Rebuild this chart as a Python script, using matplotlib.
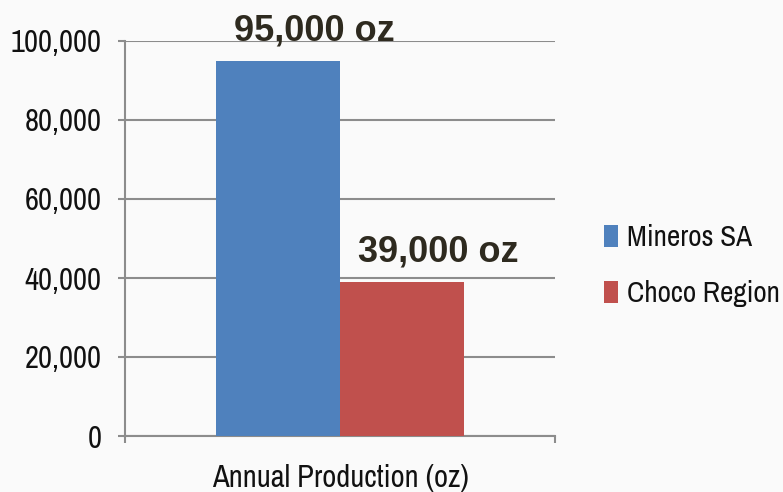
import matplotlib.pyplot as plt
from matplotlib.ticker import FuncFormatter
from matplotlib.patches import Patch

categories = ["Annual Production (oz)"]
series = ["Mineros SA", "Choco Region"]
values = [95000, 39000]
labels = ["95,000 oz", "39,000 oz"]
colors = ["#4f81bd", "#c0504d"]

narrow = ["Archivo Narrow", "DejaVu Sans"]
bg = "#fafafa"
grid_c = "#8c8c8c"

fig = plt.figure(figsize=(7.83, 4.92), dpi=100, facecolor=bg)
ax = fig.add_axes([125 / 783, 1 - 436 / 492, 430 / 783, 395 / 492], facecolor=bg)

w = 0.288
offsets = [-w / 2, w / 2]
for i in range(len(series)):
    ax.bar(offsets[i], values[i], width=w, color=colors[i], zorder=3)
    ax.annotate(labels[i], (offsets[i], values[i]), xytext=(36, 20),
                textcoords="offset pixels", ha="center", va="baseline",
                fontsize=26, fontweight="bold", color="#2e2a1f",
                family=["Liberation Sans", "DejaVu Sans"], zorder=4,
                annotation_clip=False)

ax.set_xlim(-0.5, 0.5)
ax.set_ylim(0, 100000)
ax.set_yticks(range(0, 100001, 20000))
ax.yaxis.set_major_formatter(FuncFormatter(lambda v, p: f"{int(v):,}"))
ax.set_xticks([-0.5, 0.5])
ax.set_xticklabels([])
ax.set_xticks([0], minor=True)
ax.set_xticklabels(categories, minor=True)
ax.tick_params(axis="x", which="minor", length=0, pad=20, labelsize=22,
               labelfontfamily=narrow, labelcolor="#111111")
ax.tick_params(axis="x", which="major", length=5, width=1.5, color=grid_c, direction="out")
ax.tick_params(axis="y", length=5, width=1.5, color=grid_c, pad=12, labelsize=22,
               labelfontfamily=narrow, labelcolor="#111111")

ax.grid(axis="y", color=grid_c, linewidth=1.5, zorder=0)
for s in ["top", "right"]:
    ax.spines[s].set_visible(False)
for s in ["left", "bottom"]:
    ax.spines[s].set_color(grid_c)
    ax.spines[s].set_linewidth(1.5)

handles = [Patch(facecolor=c, edgecolor="none") for c in colors]
leg = fig.legend(handles, series, loc="center left", bbox_to_anchor=(0.771, 0.46),
                 frameon=False, prop={"family": narrow, "size": 21},
                 borderpad=0, borderaxespad=0,
                 handlelength=0.5, handleheight=0.75, handletextpad=0.3, labelspacing=1.0)
for t in leg.get_texts():
    t.set_color("#111111")

fig.savefig("out.png", dpi=100, facecolor=bg)
